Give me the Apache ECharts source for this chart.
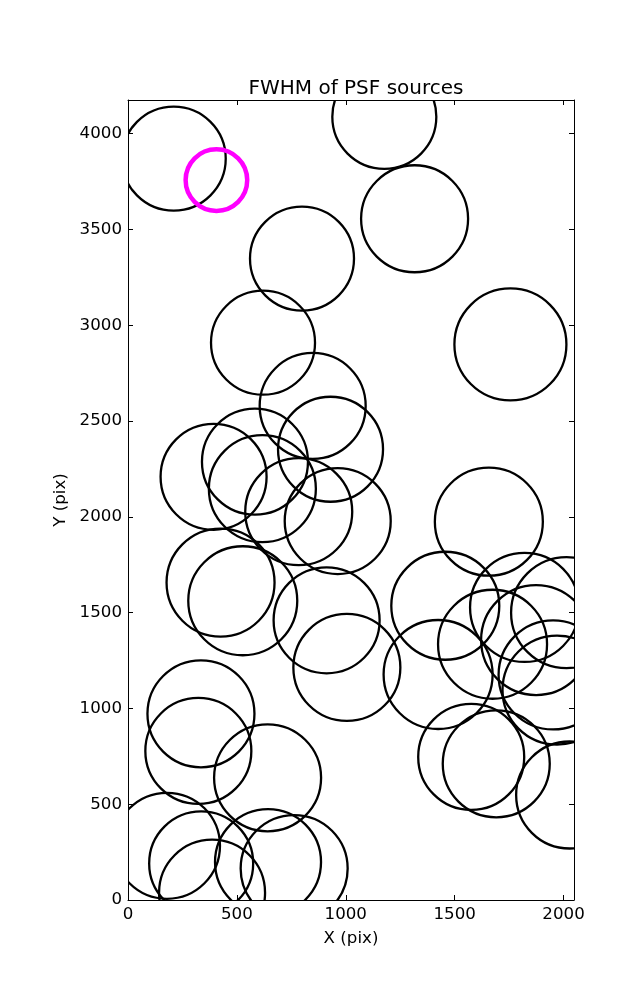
<!DOCTYPE html>
<html>
<head>
<meta charset="utf-8">
<script src="https://cdn.jsdelivr.net/npm/echarts@6/dist/echarts.min.js"></script>
<style>
html,body{margin:0;padding:0;background:#fff;}
#chart{width:637px;height:1000px;}
</style>
</head>
<body>
<div id="chart"></div>
<script>
// Source positions (detector pixels) and FWHM (arbitrary units, drawn as circle radius)
const srcX = [210,1177,1316,799,620,1756,848,930,393,583,617,784,963,1657,425,527,912,1005,1457,1821,2014,1674,1874,1952,1970,1424,335,323,641,1576,1691,2028,179,336,386,643,763];
const srcY = [3870,4088,3556,3348,2909,2900,2579,2353,2209,2288,2147,2027,1978,1975,1657,1562,1460,1214,1536,1527,1500,1335,1357,1175,1096,1177,972,778,638,747,711,548,283,191,38,198,164];
const srcFwhm = [5.2,5.2,5.35,5.2,5.2,5.6,5.3,5.25,5.3,5.3,5.35,5.35,5.3,5.4,5.4,5.45,5.3,5.35,5.4,5.45,5.55,5.45,5.5,5.45,5.45,5.45,5.35,5.3,5.35,5.3,5.35,5.35,5.3,5.2,5.3,5.3,5.35];
// Reference (magenta) source
const refX = [406];
const refY = [3758];
const refFwhm = [3.08];
// Axis ticks
const xTicks = [0,500,1000,1500,2000];
const yTicks = [0,500,1000,1500,2000,2500,3000,3500,4000];
const xMax = 2048, yMax = 4176;

const PX_PER_FWHM = 10;
const FONT = 'DejaVu Sans';
const FS = 16.67;

function circleItem(color, lw){
  return function(params, api){
    const c = api.coord([api.value(0), api.value(1)]);
    return {
      type:'circle',
      shape:{cx:c[0], cy:c[1], r:api.value(2)*PX_PER_FWHM},
      style:{fill:'none', stroke:color, lineWidth:lw}
    };
  };
}

const chart = echarts.init(document.getElementById('chart'), null, {renderer:'canvas'});
const axisCommon = {
  type:'value',
  axisLine:{show:true, onZero:false, lineStyle:{color:'#000', width:1}},
  axisTick:{show:true, inside:true, length:5, lineStyle:{color:'#000', width:1}},
  splitLine:{show:false}
};
const plain = v => String(v);
chart.setOption({
  animation:false,
  backgroundColor:'#fff',
  title:{text:'FWHM of PSF sources', left:351, top:74, textAlign:'center',
    textStyle:{fontFamily:FONT, fontSize:20, fontWeight:'normal', color:'#000'}},
  grid:{left:128, right:63, top:100, bottom:100},
  xAxis:[
    Object.assign({}, axisCommon, {position:'bottom', min:0, max:xMax,
      name:'X (pix)', nameLocation:'middle', nameGap:30,
      nameTextStyle:{fontFamily:FONT, fontSize:FS, color:'#000'},
      axisTick:Object.assign({}, axisCommon.axisTick, {customValues:xTicks}),
      axisLabel:{customValues:xTicks, formatter:plain, margin:6, fontFamily:FONT, fontSize:FS, color:'#000'}}),
    Object.assign({}, axisCommon, {position:'top', min:0, max:xMax,
      axisTick:Object.assign({}, axisCommon.axisTick, {customValues:xTicks}),
      axisLabel:{show:false}})
  ],
  yAxis:[
    Object.assign({}, axisCommon, {position:'left', min:0, max:yMax,
      name:'Y (pix)', nameLocation:'middle', nameGap:55, nameRotate:90,
      nameTextStyle:{fontFamily:FONT, fontSize:FS, color:'#000'},
      axisTick:Object.assign({}, axisCommon.axisTick, {customValues:yTicks}),
      axisLabel:{customValues:yTicks, formatter:plain, margin:6, fontFamily:FONT, fontSize:FS, color:'#000'}}),
    Object.assign({}, axisCommon, {position:'right', min:0, max:yMax,
      axisTick:Object.assign({}, axisCommon.axisTick, {customValues:yTicks}),
      axisLabel:{show:false}})
  ],
  series:[
    {type:'custom', name:'sources', clip:true, xAxisIndex:0, yAxisIndex:0,
      renderItem:circleItem('#000000', 2.3),
      data:srcX.map((x,i)=>[x, srcY[i], srcFwhm[i]])},
    {type:'custom', name:'reference', clip:true, xAxisIndex:0, yAxisIndex:0,
      renderItem:circleItem('#ff00ff', 4.5),
      data:refX.map((x,i)=>[x, refY[i], refFwhm[i]])}
  ]
});
</script>
</body>
</html>
